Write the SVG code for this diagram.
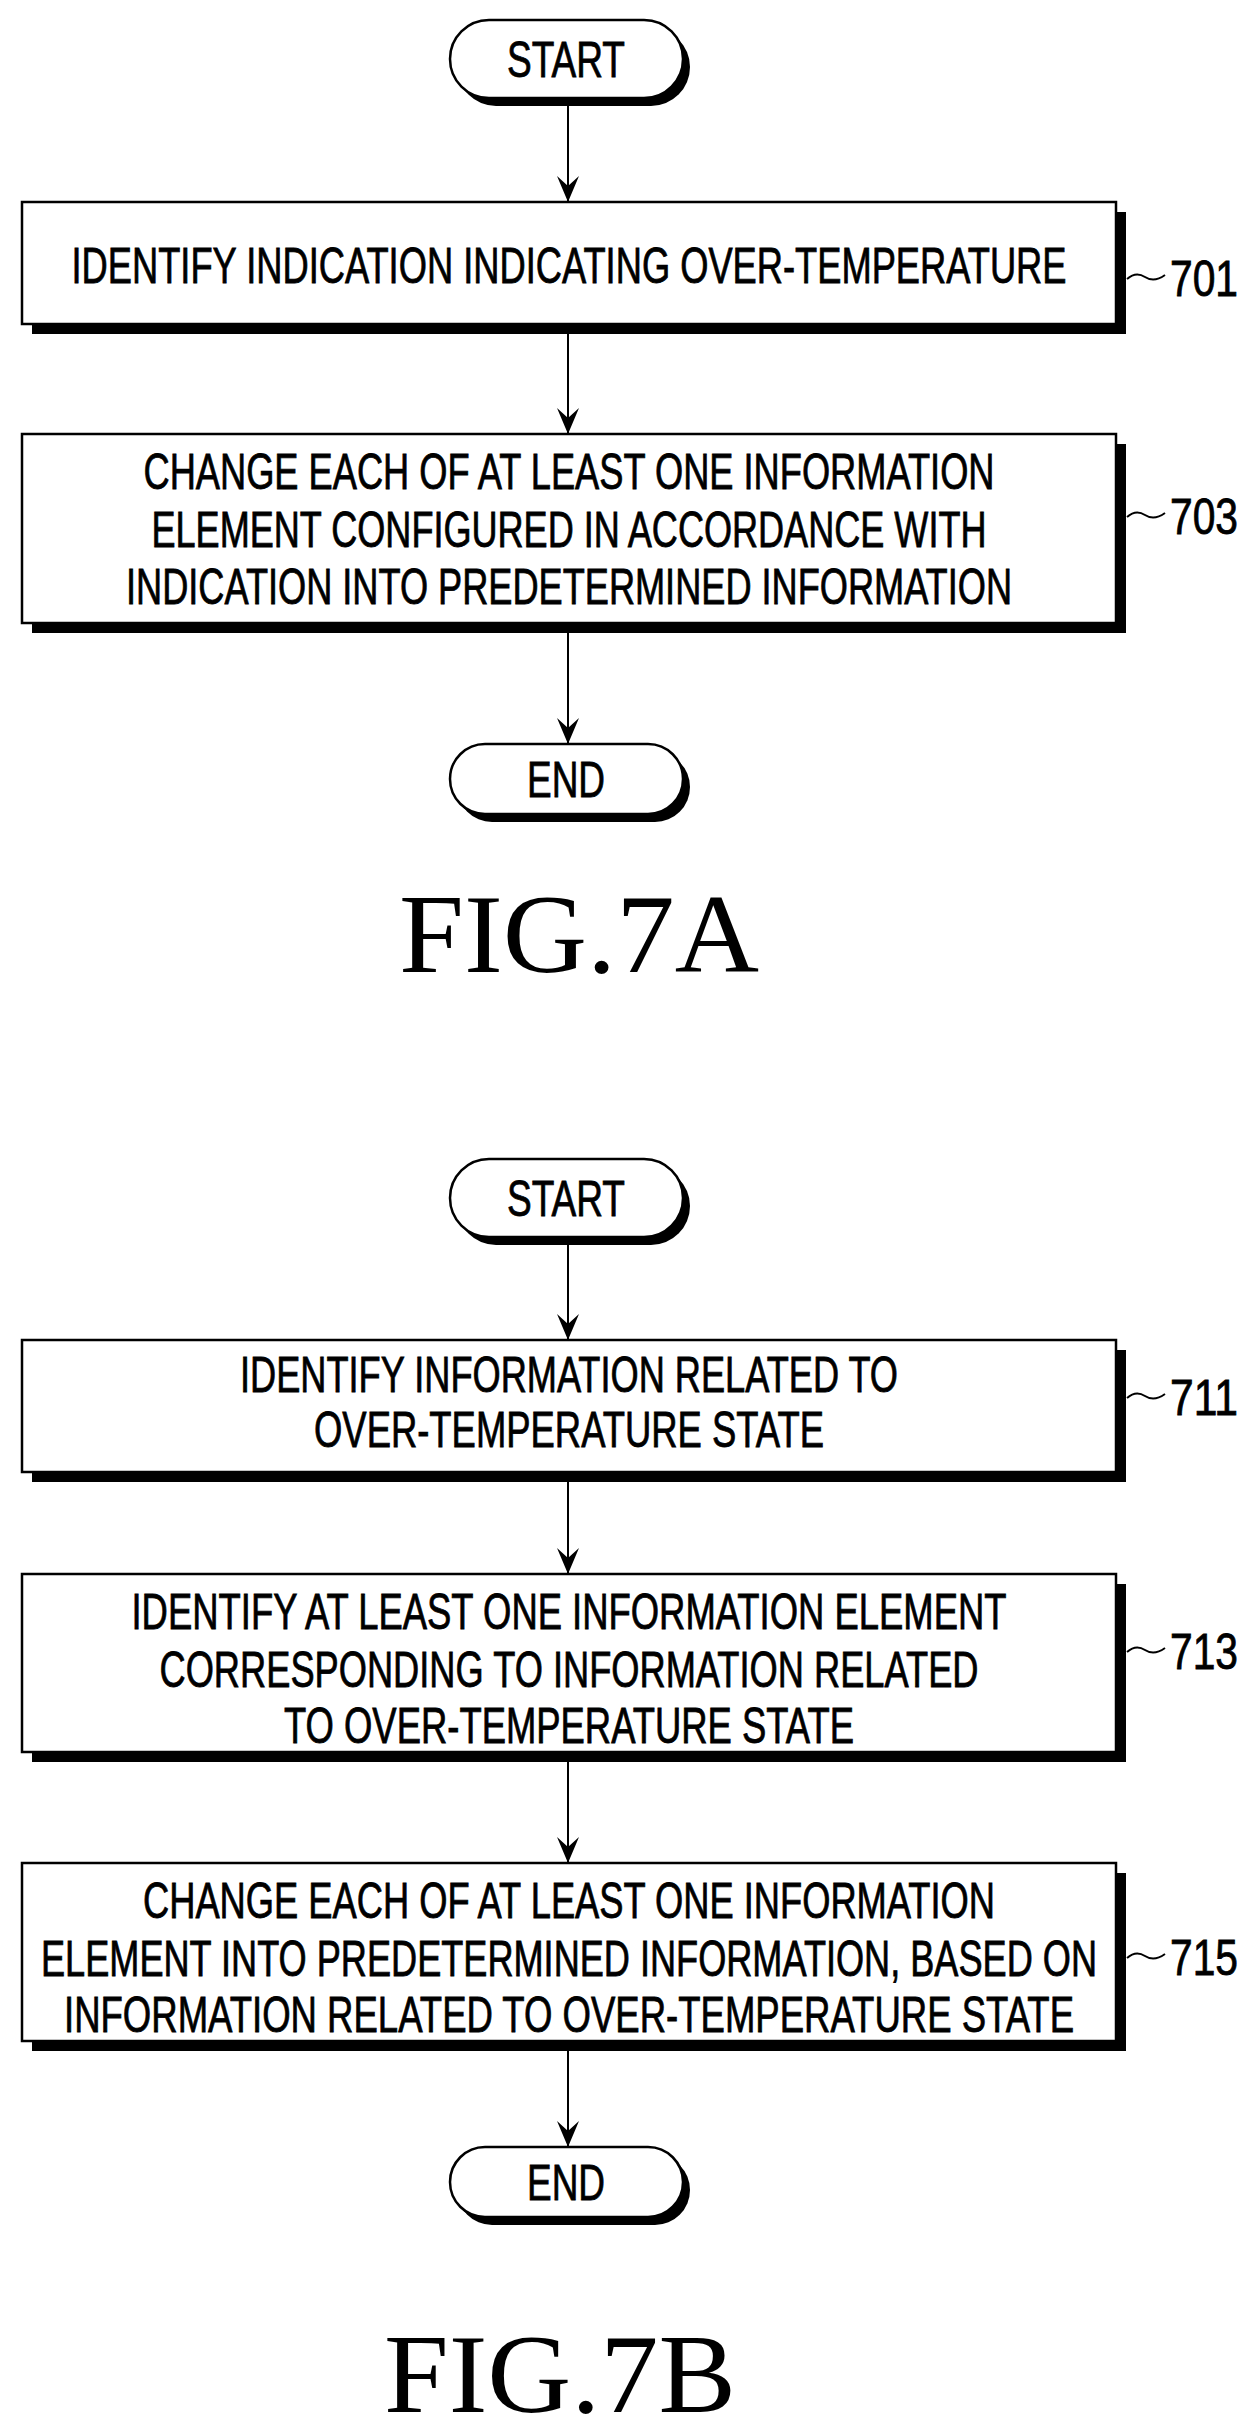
<svg xmlns="http://www.w3.org/2000/svg" width="1252" height="2428" viewBox="0 0 1252 2428">
<style>
.box{fill:#fff;stroke:#000;stroke-width:2.5}
.sh{fill:#000}
.t{font-family:"Liberation Sans",Arial,sans-serif;font-size:50px;text-anchor:middle;fill:#000;stroke:#000;stroke-width:0.8}
.lb{font-family:"Liberation Sans",Arial,sans-serif;font-size:50px;fill:#000;stroke:#000;stroke-width:0.8}
.fig{font-family:"Liberation Serif","Times New Roman",serif;font-size:112px;text-anchor:middle;fill:#000}
.c{stroke:#000;stroke-width:2;fill:none}
</style>
<defs>
<marker id="ah" markerWidth="26" markerHeight="22" refX="26" refY="11" orient="auto" markerUnits="userSpaceOnUse" viewBox="0 0 26 22">
<path d="M0,0 L10,11 L0,22 L26,11 Z" fill="#000"/>
</marker>
</defs>
<g id="start-a">
<rect x="457" y="28" width="233" height="78" rx="39" class="sh"/>
<rect x="450" y="20" width="233" height="78" rx="39" class="box"/>
<text x="566" y="77" class="t" textLength="118" lengthAdjust="spacingAndGlyphs">START</text>
</g>
<g id="n701">
<rect x="32" y="212" width="1094" height="122" class="sh"/>
<rect x="22" y="202" width="1094" height="122" class="box"/>
<text x="569" y="283" class="t" textLength="995" lengthAdjust="spacingAndGlyphs">IDENTIFY INDICATION INDICATING OVER-TEMPERATURE</text>
<path d="M1127,279 q9,-8 18,-2 t20,-2" class="c"/>
<text x="1170" y="296" class="lb" textLength="68" lengthAdjust="spacingAndGlyphs">701</text>
</g>
<g id="n703">
<rect x="32" y="444" width="1094" height="189" class="sh"/>
<rect x="22" y="434" width="1094" height="189" class="box"/>
<text x="569" y="489" class="t" textLength="851" lengthAdjust="spacingAndGlyphs">CHANGE EACH OF AT LEAST ONE INFORMATION</text>
<text x="569" y="547" class="t" textLength="835" lengthAdjust="spacingAndGlyphs">ELEMENT CONFIGURED IN ACCORDANCE WITH</text>
<text x="569" y="604" class="t" textLength="886" lengthAdjust="spacingAndGlyphs">INDICATION INTO PREDETERMINED INFORMATION</text>
<path d="M1127,517 q9,-8 18,-2 t20,-2" class="c"/>
<text x="1170" y="534" class="lb" textLength="68" lengthAdjust="spacingAndGlyphs">703</text>
</g>
<g id="end-a">
<rect x="457" y="752" width="233" height="70" rx="35" class="sh"/>
<rect x="450" y="744" width="233" height="70" rx="35" class="box"/>
<text x="566" y="797" class="t" textLength="78" lengthAdjust="spacingAndGlyphs">END</text>
</g>
<text x="579" y="972" class="fig" textLength="360" lengthAdjust="spacingAndGlyphs">FIG.7A</text>
<g id="start-b">
<rect x="457" y="1167" width="233" height="78" rx="39" class="sh"/>
<rect x="450" y="1159" width="233" height="78" rx="39" class="box"/>
<text x="566" y="1216" class="t" textLength="118" lengthAdjust="spacingAndGlyphs">START</text>
</g>
<g id="n711">
<rect x="32" y="1350" width="1094" height="132" class="sh"/>
<rect x="22" y="1340" width="1094" height="132" class="box"/>
<text x="569" y="1392" class="t" textLength="658" lengthAdjust="spacingAndGlyphs">IDENTIFY INFORMATION RELATED TO</text>
<text x="569" y="1447" class="t" textLength="510" lengthAdjust="spacingAndGlyphs">OVER-TEMPERATURE STATE</text>
<path d="M1127,1398 q9,-8 18,-2 t20,-2" class="c"/>
<text x="1170" y="1415" class="lb" textLength="68" lengthAdjust="spacingAndGlyphs">711</text>
</g>
<g id="n713">
<rect x="32" y="1584" width="1094" height="178" class="sh"/>
<rect x="22" y="1574" width="1094" height="178" class="box"/>
<text x="569" y="1629" class="t" textLength="875" lengthAdjust="spacingAndGlyphs">IDENTIFY AT LEAST ONE INFORMATION ELEMENT</text>
<text x="569" y="1687" class="t" textLength="819" lengthAdjust="spacingAndGlyphs">CORRESPONDING TO INFORMATION RELATED</text>
<text x="569" y="1743" class="t" textLength="570" lengthAdjust="spacingAndGlyphs">TO OVER-TEMPERATURE STATE</text>
<path d="M1127,1652 q9,-8 18,-2 t20,-2" class="c"/>
<text x="1170" y="1669" class="lb" textLength="68" lengthAdjust="spacingAndGlyphs">713</text>
</g>
<g id="n715">
<rect x="32" y="1873" width="1094" height="178" class="sh"/>
<rect x="22" y="1863" width="1094" height="178" class="box"/>
<text x="569" y="1918" class="t" textLength="852" lengthAdjust="spacingAndGlyphs">CHANGE EACH OF AT LEAST ONE INFORMATION</text>
<text x="569" y="1976" class="t" textLength="1056" lengthAdjust="spacingAndGlyphs">ELEMENT INTO PREDETERMINED INFORMATION, BASED ON</text>
<text x="569" y="2032" class="t" textLength="1010" lengthAdjust="spacingAndGlyphs">INFORMATION RELATED TO OVER-TEMPERATURE STATE</text>
<path d="M1127,1958 q9,-8 18,-2 t20,-2" class="c"/>
<text x="1170" y="1975" class="lb" textLength="68" lengthAdjust="spacingAndGlyphs">715</text>
</g>
<g id="end-b">
<rect x="457" y="2155" width="233" height="70" rx="35" class="sh"/>
<rect x="450" y="2147" width="233" height="70" rx="35" class="box"/>
<text x="566" y="2200" class="t" textLength="78" lengthAdjust="spacingAndGlyphs">END</text>
</g>
<text x="560" y="2412" class="fig" textLength="352" lengthAdjust="spacingAndGlyphs">FIG.7B</text>
<g id="connectors">
<line x1="568" y1="106" x2="568" y2="202" class="c" marker-end="url(#ah)"/>
<line x1="568" y1="334" x2="568" y2="434" class="c" marker-end="url(#ah)"/>
<line x1="568" y1="633" x2="568" y2="744" class="c" marker-end="url(#ah)"/>
<line x1="568" y1="1245" x2="568" y2="1340" class="c" marker-end="url(#ah)"/>
<line x1="568" y1="1482" x2="568" y2="1574" class="c" marker-end="url(#ah)"/>
<line x1="568" y1="1762" x2="568" y2="1863" class="c" marker-end="url(#ah)"/>
<line x1="568" y1="2051" x2="568" y2="2147" class="c" marker-end="url(#ah)"/>
</g>
</svg>
